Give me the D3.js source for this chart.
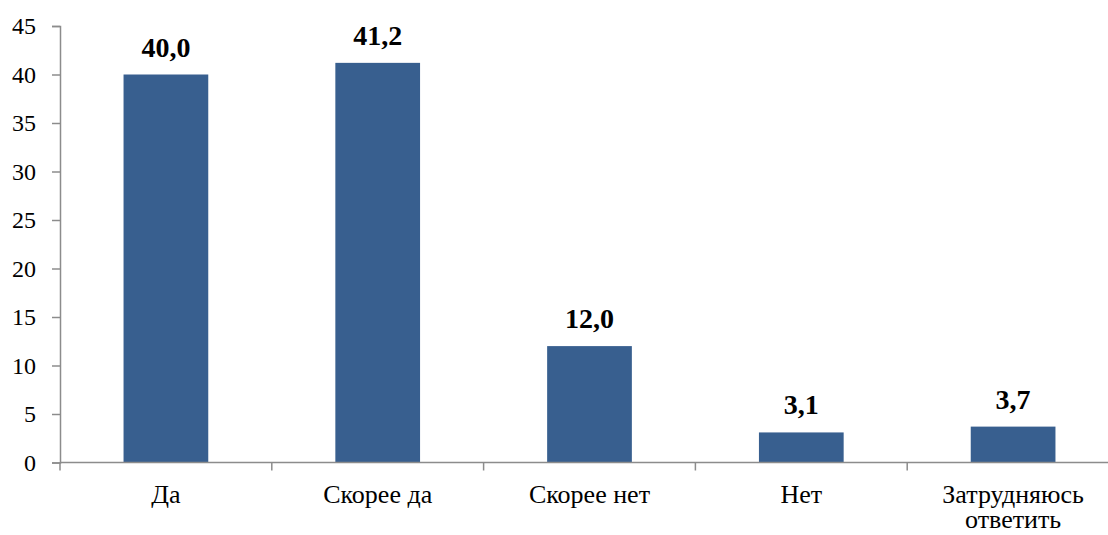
<!DOCTYPE html>
<html>
<head>
<meta charset="utf-8">
<script src="https://cdn.jsdelivr.net/npm/d3@7"></script>
</head>
<body style="margin:0">
<svg id="chart"></svg>
<script>
var categories = [["Да"], ["Скорее да"], ["Скорее нет"], ["Нет"], ["Затрудняюсь", "ответить"]];
var values = [40.0, 41.2, 12.0, 3.1, 3.7];
var yTicks = [0, 5, 10, 15, 20, 25, 30, 35, 40, 45];

var W = 1108, H = 535;
var mLeft = 60, mRight = 1119, mTop = 26, mBottom = 462.5;
var axisColor = "#8c8c8c";
var barColor = "#385f8f";
var fontName = "'Liberation Serif'";

var svg = d3.select("#chart").attr("width", W).attr("height", H);

var x = d3.scaleBand()
   .domain(d3.range(categories.length))
   .range([mLeft, mRight])
   .paddingInner(0.6)
   .paddingOuter(0.3);
var y = d3.scaleLinear().domain([0, 45]).range([mBottom, mTop]);

// y axis
var ya = svg.append("g")
   .attr("transform", "translate(" + mLeft + ",0)")
   .call(d3.axisLeft(y).tickValues(yTicks).tickSize(8).tickPadding(16));
ya.attr("font-family", null).attr("font-size", null);
ya.select(".domain").attr("stroke", axisColor).attr("stroke-width", 1.5);
ya.selectAll(".tick line").attr("stroke", axisColor).attr("stroke-width", 1.5);
ya.selectAll(".tick text")
   .style("font-family", fontName)
   .style("font-size", "24px")
   .attr("fill", "#000");

// bars
svg.selectAll(".bar").data(values).enter().append("rect")
   .attr("class", "bar")
   .attr("x", function(d, i){ return x(i); })
   .attr("y", function(d){ return y(d); })
   .attr("width", x.bandwidth())
   .attr("height", function(d){ return y(0) - y(d); })
   .attr("fill", barColor);

// x axis line and boundary ticks
var step = x.step();
svg.append("line")
   .attr("x1", mLeft).attr("x2", mRight)
   .attr("y1", y(0)).attr("y2", y(0))
   .attr("stroke", axisColor).attr("stroke-width", 1.5);
svg.selectAll(".xtick").data(d3.range(categories.length + 1)).enter().append("line")
   .attr("class", "xtick")
   .attr("x1", function(i){ return mLeft + i * step; })
   .attr("x2", function(i){ return mLeft + i * step; })
   .attr("y1", y(0)).attr("y2", y(0) + 8)
   .attr("stroke", axisColor).attr("stroke-width", 1.5);

// category labels
var cl = svg.selectAll(".cat").data(categories).enter().append("text")
   .attr("class", "cat")
   .attr("x", function(d, i){ return x(i) + x.bandwidth() / 2; })
   .attr("y", 503)
   .attr("text-anchor", "middle")
   .attr("fill", "#000")
   .style("font-family", fontName)
   .style("font-size", "26px");
cl.selectAll("tspan").data(function(d){ return d; }).enter().append("tspan")
   .attr("x", function(){ return d3.select(this.parentNode).attr("x"); })
   .attr("dy", function(d, j){ return j == 0 ? 0 : 25; })
   .text(function(d){ return d; });

// value labels
svg.selectAll(".val").data(values).enter().append("text")
   .attr("class", "val")
   .attr("x", function(d, i){ return x(i) + x.bandwidth() / 2; })
   .attr("y", function(d){ return y(d) - 18; })
   .attr("text-anchor", "middle")
   .attr("fill", "#000")
   .style("font-family", fontName)
   .style("font-size", "28px")
   .style("font-weight", "bold")
   .text(function(d){ return d.toFixed(1).replace(".", ","); });
</script>
</body>
</html>
